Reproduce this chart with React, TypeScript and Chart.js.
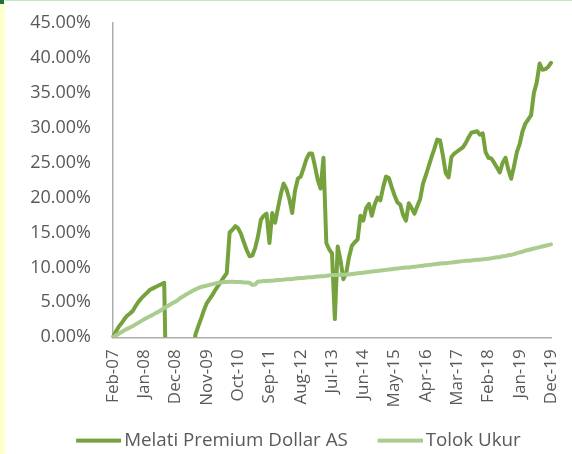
import React, { useEffect, useRef } from "react";
import { Chart, registerables } from "chart.js";

Chart.register(...registerables);

const MONTHS = ["Jan", "Feb", "Mar", "Apr", "May", "Jun", "Jul", "Aug", "Sep", "Oct", "Nov", "Dec"];
const POINT_COUNT = 155; // Feb-07 .. Dec-19, monthly
const CATEGORIES: string[] = Array.from({ length: POINT_COUNT }, (_, i) => {
  const m = (1 + i) % 12;
  const y = 7 + Math.floor((1 + i) / 12);
  return `${MONTHS[m]}-${String(y).padStart(2, "0")}`;
});

const TICK_LABELS = [
  "Feb-07", "Jan-08", "Dec-08", "Nov-09", "Oct-10", "Sep-11", "Aug-12", "Jul-13",
  "Jun-14", "May-15", "Apr-16", "Mar-17", "Feb-18", "Jan-19", "Dec-19",
];

const SERIES_NAMES = ["Melati Premium Dollar AS", "Tolok Ukur"];

// cumulative return, % (values below 0 fall outside the axis and are clipped)
const MELATI = [
  0, 0.8, 1.5, 2.0, 2.6, 3.1, 3.4, 3.8, 4.5, 5.1,
  5.6, 6.0, 6.4, 6.8, 7.0, 7.2, 7.4, 7.6, 7.8, -14,
  -18, -22, -24, -23, -20, -16, -11, -6, -2.5, 0.4,
  1.6, 2.7, 3.9, 4.9, 5.5, 6.1, 6.8, 7.4, 8.0, 8.6,
  9.2, 15.0, 15.4, 15.9, 15.6, 14.8, 13.6, 12.5, 11.6, 11.7,
  12.8, 14.5, 16.8, 17.4, 17.7, 13.5, 17.8, 16.4, 18.5, 20.5,
  22.0, 21.2, 19.8, 17.8, 21.0, 22.7, 23.0, 24.2, 25.5, 26.3,
  26.3, 24.5, 22.5, 21.3, 25.7, 13.5, 12.6, 12.0, 2.6, 13.0,
  11.0, 8.3, 9.2, 11.5, 13.1, 13.6, 14.0, 17.4, 16.7, 18.5,
  19.1, 17.4, 19.0, 20.0, 19.6, 21.5, 23.0, 22.8, 21.5, 20.3,
  19.3, 19.0, 17.5, 16.7, 19.2, 18.5, 17.7, 18.8, 19.8, 22.0,
  23.2, 24.5, 25.8, 27.0, 28.3, 28.2, 26.0, 23.5, 22.9, 25.8,
  26.3, 26.6, 26.9, 27.2, 27.8, 28.6, 29.3, 29.4, 29.5, 29.0,
  29.2, 26.5, 25.7, 25.6, 25.0, 24.3, 23.6, 25.0, 25.7, 24.0,
  22.7, 24.5, 26.5, 27.7, 29.5, 30.6, 31.2, 31.8, 35.0, 36.5,
  39.2, 38.3, 38.4, 38.7, 39.3,
];

const TOLOK_UKUR = [
  0, 0.25, 0.5, 0.75, 1.0, 1.2, 1.4, 1.6, 1.85, 2.1,
  2.35, 2.6, 2.8, 3.0, 3.2, 3.45, 3.65, 3.9, 4.2, 4.4,
  4.65, 4.9, 5.1, 5.4, 5.7, 5.95, 6.2, 6.4, 6.65, 6.85,
  7.05, 7.2, 7.3, 7.4, 7.5, 7.6, 7.7, 7.8, 7.85, 7.9,
  7.9, 7.95, 7.95, 7.9, 7.9, 7.9, 7.85, 7.85, 7.8, 7.5,
  7.55, 8.0, 8.0, 8.05, 8.05, 8.1, 8.1, 8.15, 8.2, 8.2,
  8.25, 8.3, 8.3, 8.35, 8.4, 8.45, 8.5, 8.5, 8.55, 8.6,
  8.6, 8.65, 8.7, 8.75, 8.75, 8.8, 8.85, 8.9, 8.9, 8.9,
  8.95, 8.95, 9.0, 9.0, 9.05, 9.1, 9.15, 9.2, 9.25, 9.3,
  9.35, 9.4, 9.45, 9.5, 9.55, 9.6, 9.65, 9.7, 9.75, 9.8,
  9.85, 9.9, 9.95, 10.0, 10.0, 10.05, 10.1, 10.15, 10.2, 10.25,
  10.3, 10.35, 10.4, 10.45, 10.5, 10.55, 10.6, 10.6, 10.65, 10.7,
  10.75, 10.8, 10.85, 10.9, 10.95, 10.95, 11.0, 11.05, 11.1, 11.1,
  11.15, 11.2, 11.25, 11.3, 11.4, 11.45, 11.5, 11.6, 11.65, 11.75,
  11.8, 11.9, 12.05, 12.15, 12.25, 12.4, 12.5, 12.6, 12.7, 12.8,
  12.9, 13.0, 13.1, 13.2, 13.3,
];

const Y_MIN = 0;
const Y_MAX = 45;
const Y_STEP = 5;

const COLOR_MELATI = "#76A23E";
const COLOR_TOLOK = "#AACD8F";
const TEXT_COLOR = "#595959";
const AXIS_COLOR = "#ADADAD";
const FONT = "'Open Sans', 'Noto Sans', sans-serif";

function legendSwatch(color: string): HTMLCanvasElement {
  const c = document.createElement("canvas");
  c.width = 71;
  c.height = 6;
  const ctx = c.getContext("2d")!;
  ctx.fillStyle = color;
  ctx.fillRect(71 - 45, 1, 45, 4);
  return c;
}

export default function App() {
  const ref = useRef<HTMLCanvasElement | null>(null);

  useEffect(() => {
    if (!ref.current) return;
    const chart = new Chart(ref.current, {
      type: "line",
      data: {
        labels: CATEGORIES,
        datasets: [
          {
            label: SERIES_NAMES[0],
            data: MELATI,
            borderColor: COLOR_MELATI,
            backgroundColor: COLOR_MELATI,
            borderWidth: 4,
            pointRadius: 0,
            pointHoverRadius: 0,
            pointStyle: legendSwatch(COLOR_MELATI) as any,
            tension: 0,
            borderJoinStyle: "round",
            borderCapStyle: "round",
            order: 1,
          },
          {
            label: SERIES_NAMES[1],
            data: TOLOK_UKUR,
            borderColor: COLOR_TOLOK,
            backgroundColor: COLOR_TOLOK,
            borderWidth: 4,
            pointRadius: 0,
            pointHoverRadius: 0,
            pointStyle: legendSwatch(COLOR_TOLOK) as any,
            tension: 0,
            borderJoinStyle: "round",
            borderCapStyle: "round",
            order: 0,
          },
        ],
      },
      options: {
        responsive: false,
        animation: false,
        layout: { padding: { left: 26, right: 21, top: 23, bottom: -6 } },
        plugins: {
          tooltip: { enabled: false },
          legend: {
            position: "bottom",
            align: "center",
            labels: {
              usePointStyle: true,
              pointStyleWidth: 58.5,
              padding: 10,
              color: TEXT_COLOR,
              font: { family: FONT, size: 18.75 },
              sort: (a: any, b: any) => a.datasetIndex - b.datasetIndex,
            },
          },
        },
        scales: {
          x: {
            type: "category",
            grid: { display: true, drawOnChartArea: false, drawTicks: false },
            border: { display: true, color: AXIS_COLOR, width: 1.5 },
            ticks: {
              autoSkip: false,
              minRotation: 90,
              maxRotation: 90,
              padding: 12,
              color: TEXT_COLOR,
              font: { family: FONT, size: 17 },
              callback: function (this: any, _v: any, i: number) {
                const lab = CATEGORIES[i];
                return TICK_LABELS.includes(lab) ? lab : null;
              },
            },
            afterFit: (s: any) => {
              s.height = 84;
              s.paddingLeft = 0;
              s.paddingRight = 0;
            },
          },
          y: {
            min: Y_MIN,
            max: Y_MAX,
            grid: { display: true, drawOnChartArea: false, drawTicks: false },
            border: { display: true, color: AXIS_COLOR, width: 1.5 },
            ticks: {
              stepSize: Y_STEP,
              padding: 22,
              color: TEXT_COLOR,
              font: { family: FONT, size: 18 },
              callback: (v: any) => Number(v).toFixed(2) + "%",
            },
            afterFit: (s: any) => {
              s.width = 87;
              s.paddingTop = 0;
              s.paddingBottom = 0;
            },
          },
        },
      },
    });
    return () => chart.destroy();
  }, []);

  return (
    <div
      style={{
        position: "fixed",
        left: 0,
        top: 0,
        width: 572,
        height: 454,
        overflow: "hidden",
        background: "#ffffff",
      }}
    >
      <canvas ref={ref} width={572} height={454} style={{ display: "block", width: 572, height: 454 }} />
      <div style={{ position: "absolute", left: 0, top: 0, width: 5, height: 454, background: "#FFFFCC" }} />
      <div style={{ position: "absolute", left: 5, top: 0, width: 567, height: 1, background: "#C6E6C0" }} />
      <div style={{ position: "absolute", left: 0, top: 0, width: 4, height: 4, background: "#1E7145" }} />
    </div>
  );
}
